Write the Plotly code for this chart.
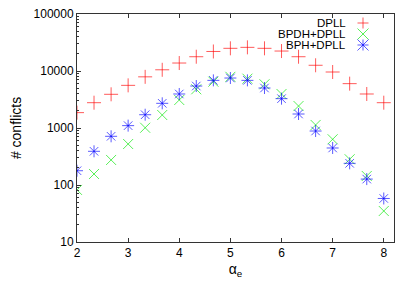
import plotly.graph_objects as go

alpha = [2, 2.333, 2.667, 3, 3.333, 3.667, 4, 4.333, 4.667, 5, 5.333, 5.667,
         6, 6.333, 6.667, 7, 7.333, 7.667, 8]
dpll = [1860, 2780, 3900, 5600, 7900, 10500, 13800, 17800, 22000, 25000, 26000,
        25000, 22400, 17800, 12600, 9600, 6000, 3950, 2780]
bpdh = [82, 156, 275, 524, 1010, 1690, 3100, 4780, 6500, 7900, 7330, 5850,
        3950, 2430, 1130, 634, 283, 144, 35]
bph = [178, 390, 715, 1100, 1710, 2710, 3950, 5450, 6850, 7530, 6850, 5030,
       3270, 1760, 885, 446, 240, 127, 58]

series_names = ["DPLL", "BPDH+DPLL", "BPH+DPLL"]
ytick_vals = [10, 100, 1000, 10000, 100000]
ytick_text = ["10", "100", "1000", "10000", "100000"]
xtick_vals = [2, 3, 4, 5, 6, 7, 8]

minor_vals = [m * 10 ** e for e in range(1, 5) for m in range(2, 10)]

colors = ["rgba(255,0,0,0.65)", "rgba(0,230,0,0.65)", "rgba(0,0,255,0.65)"]
symbols = ["cross-thin", "x-thin", "asterisk"]
values = [dpll, bpdh, bph]

fig = go.Figure()
for name, vals, col, sym in zip(series_names, values, colors, symbols):
    fig.add_trace(go.Scatter(x=alpha, y=vals, mode="markers", name=name,
                             showlegend=False,
                             marker=dict(symbol=sym, size=10,
                                         line=dict(color=col, width=1))))

# page body has an 8px default margin: compensate so the plot area lands at
# x 77..394, y 14..242 in the window
OFF = 8
L, R, T, B = 77 - OFF, 21, 14 - OFF, 49
W, H = 415 - OFF, 291 - OFF
pw, ph = W - L - R, H - T - B
key_x = (363 - 77) / pw
text_x = (347 - 77) / pw
rows = [23, 34, 45]
hx, hy = 5.5 / pw, 5.5 / ph
shapes = []
annotations = []
for i, (name, col) in enumerate(zip(series_names, colors)):
    yc = 1 - (rows[i] - 14) / ph
    annotations.append(dict(text=name, x=text_x, y=yc, xref="paper", yref="paper",
                            xanchor="right", yanchor="middle", showarrow=False,
                            borderpad=0, font=dict(size=11.5, color="black")))
    segs = []
    if i in (0, 2):
        segs += [(key_x - hx, yc, key_x + hx, yc), (key_x, yc - hy, key_x, yc + hy)]
    if i in (1, 2):
        segs += [(key_x - hx, yc - hy, key_x + hx, yc + hy),
                 (key_x - hx, yc + hy, key_x + hx, yc - hy)]
    for x0, y0, x1, y1 in segs:
        shapes.append(dict(type="line", xref="paper", yref="paper",
                           x0=x0, y0=y0, x1=x1, y1=y1,
                           line=dict(color=col, width=1)))

axis_common = dict(showline=True, linecolor="#333", linewidth=1,
                   ticks="inside", tickcolor="#333", showgrid=False, zeroline=False,
                   automargin=False, ticklabeloverflow="allow")

fig.update_layout(
    width=W, height=H,
    margin=dict(l=L, r=R, t=T, b=B),
    paper_bgcolor="white", plot_bgcolor="white",
    font=dict(family="Liberation Sans, Arial, sans-serif", size=12, color="black"),
    showlegend=False,
    shapes=shapes,
    annotations=annotations,
    xaxis=dict(range=[2, 8.2], tickvals=xtick_vals, ticklen=4, mirror="ticks",
               title=dict(text="α<sub>e</sub>", standoff=4), **axis_common),
    yaxis=dict(type="log", range=[1, 5], tickvals=ytick_vals, ticktext=ytick_text,
               ticklen=4, mirror=True,
               title=dict(text="# conflicts", standoff=18),
               minor=dict(tickvals=minor_vals, ticks="inside", ticklen=2,
                          tickcolor="#333", showgrid=False),
               **axis_common),
)

fig.write_html("out.html")
